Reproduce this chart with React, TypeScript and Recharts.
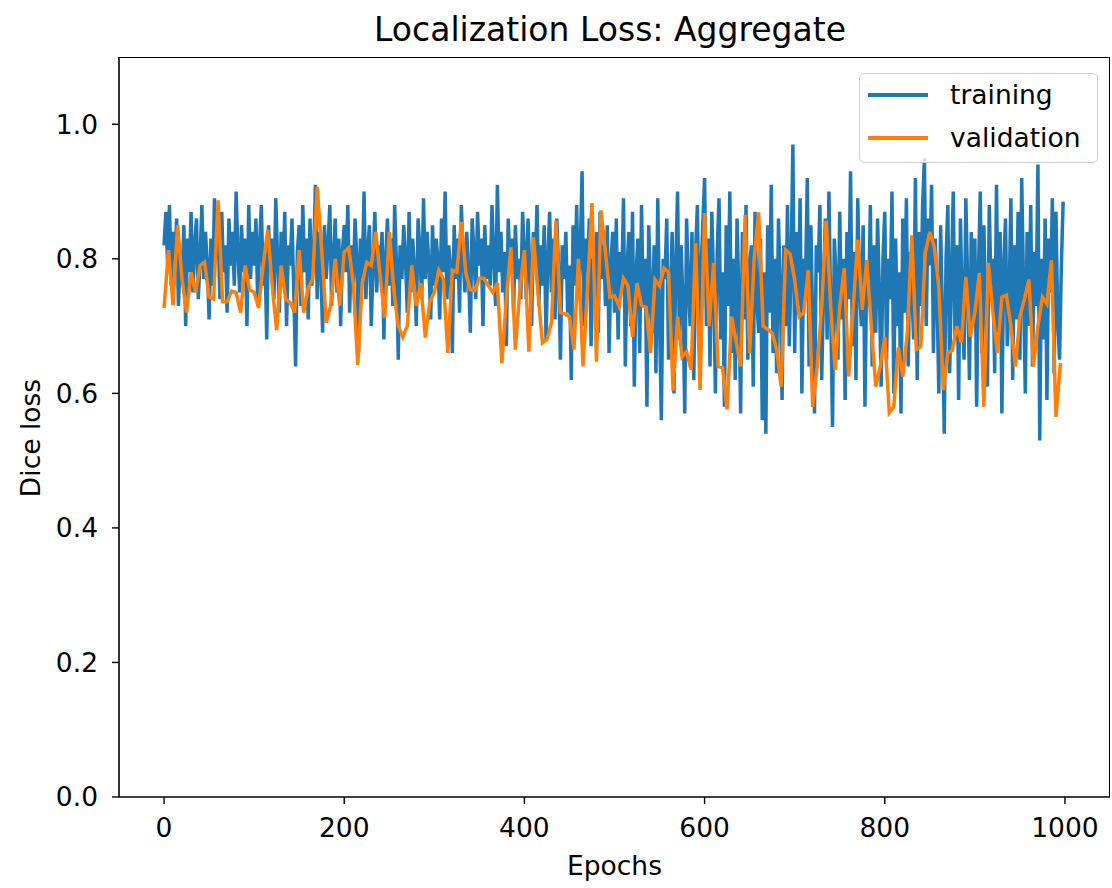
import React from "react";
import { LineChart, Line, XAxis, YAxis } from "recharts";

// training loss, one reading every 2 epochs (0..998)
const trainingLoss = [
  0.82, 0.87, 0.79, 0.88, 0.76, 0.84, 0.80, 0.86, 0.73, 0.81, 0.77, 0.85, 0.70, 0.83, 0.78, 0.87, 0.75, 0.82, 0.86, 0.74, 0.80, 0.88, 0.77, 0.84, 0.79,
  0.71, 0.83, 0.76, 0.89, 0.80, 0.85, 0.74, 0.87, 0.78, 0.82, 0.72, 0.86, 0.79, 0.84, 0.76, 0.90, 0.81, 0.75, 0.85, 0.78, 0.83, 0.70, 0.88, 0.77, 0.84,
  0.79, 0.86, 0.73, 0.82, 0.88, 0.76, 0.81, 0.68, 0.85, 0.78, 0.83, 0.74, 0.89, 0.80, 0.72, 0.84, 0.77, 0.87, 0.70, 0.82, 0.79, 0.86, 0.75, 0.64, 0.81,
  0.85, 0.73, 0.88, 0.78, 0.83, 0.71, 0.86, 0.76, 0.80, 0.91, 0.74, 0.84, 0.79, 0.69, 0.85, 0.77, 0.82, 0.88, 0.73, 0.80, 0.86, 0.75, 0.83, 0.70, 0.81,
  0.85, 0.78, 0.88, 0.72, 0.82, 0.76, 0.86, 0.80, 0.66, 0.83, 0.77, 0.90, 0.74, 0.81, 0.85, 0.70, 0.79, 0.87, 0.75, 0.82, 0.78, 0.84, 0.68, 0.80, 0.86,
  0.76, 0.83, 0.73, 0.88, 0.79, 0.65, 0.82, 0.77, 0.85, 0.80, 0.72, 0.87, 0.75, 0.83, 0.78, 0.70, 0.86, 0.81, 0.74, 0.89, 0.77, 0.84, 0.79, 0.71, 0.85,
  0.76, 0.83, 0.80, 0.71, 0.86, 0.78, 0.90, 0.74, 0.82, 0.79, 0.66, 0.85, 0.77, 0.83, 0.72, 0.88, 0.80, 0.75, 0.84, 0.78, 0.69, 0.86, 0.81, 0.74, 0.87,
  0.79, 0.83, 0.70, 0.85, 0.77, 0.82, 0.76, 0.88, 0.80, 0.73, 0.91, 0.78, 0.84, 0.75, 0.81, 0.67, 0.86, 0.79, 0.83, 0.72, 0.85, 0.77, 0.80, 0.74, 0.87,
  0.81, 0.74, 0.86, 0.78, 0.70, 0.84, 0.79, 0.88, 0.73, 0.82, 0.76, 0.85, 0.68, 0.80, 0.87, 0.75, 0.83, 0.71, 0.86, 0.78, 0.65, 0.82, 0.77, 0.84, 0.72,
  0.79, 0.62, 0.85, 0.76, 0.88, 0.74, 0.81, 0.93, 0.70, 0.83, 0.78, 0.86, 0.67, 0.80, 0.75, 0.84, 0.69, 0.87, 0.77, 0.82, 0.73, 0.85, 0.66, 0.79, 0.84,
  0.72, 0.86, 0.68, 0.81, 0.76, 0.89, 0.64, 0.79, 0.84, 0.70, 0.87, 0.61, 0.78, 0.83, 0.66, 0.88, 0.73, 0.80, 0.58, 0.85, 0.75, 0.69, 0.82, 0.63, 0.89,
  0.71, 0.56, 0.80, 0.77, 0.86, 0.65, 0.74, 0.84, 0.60, 0.79, 0.90, 0.68, 0.82, 0.73, 0.57, 0.86, 0.76, 0.70, 0.84, 0.62, 0.81, 0.88, 0.67, 0.78, 0.85,
  0.92, 0.70, 0.83, 0.64, 0.87, 0.76, 0.60, 0.81, 0.89, 0.68, 0.78, 0.58, 0.85, 0.73, 0.90, 0.66, 0.80, 0.62, 0.86, 0.75, 0.57, 0.84, 0.71, 0.88, 0.65,
  0.79, 0.82, 0.61, 0.87, 0.74, 0.69, 0.83, 0.56, 0.78, 0.54, 0.85, 0.72, 0.91, 0.66, 0.80, 0.63, 0.86, 0.76, 0.59, 0.82, 0.70, 0.88, 0.67, 0.79, 0.97,
  0.66, 0.84, 0.73, 0.89, 0.60, 0.80, 0.76, 0.92, 0.64, 0.85, 0.70, 0.57, 0.82, 0.78, 0.88, 0.62, 0.75, 0.86, 0.68, 0.90, 0.72, 0.55, 0.83, 0.77, 0.65,
  0.87, 0.71, 0.80, 0.59, 0.84, 0.74, 0.93, 0.67, 0.81, 0.62, 0.89, 0.76, 0.70, 0.85, 0.58, 0.79, 0.73, 0.88, 0.64, 0.82, 0.69, 0.86, 0.75, 0.61, 0.80,
  0.87, 0.65, 0.80, 0.74, 0.90, 0.60, 0.83, 0.70, 0.78, 0.57, 0.86, 0.72, 0.89, 0.64, 0.81, 0.76, 0.68, 0.92, 0.62, 0.84, 0.73, 0.88, 0.95, 0.70, 0.86,
  0.79, 0.91, 0.66, 0.83, 0.75, 0.60, 0.85, 0.71, 0.54, 0.80, 0.88, 0.63, 0.77, 0.90, 0.68, 0.82, 0.59, 0.86, 0.73, 0.65, 0.89, 0.76, 0.62, 0.84, 0.70,
  0.83, 0.58, 0.78, 0.90, 0.66, 0.85, 0.72, 0.61, 0.88, 0.75, 0.80, 0.63, 0.91, 0.69, 0.84, 0.57, 0.79, 0.86, 0.67, 0.74, 0.89, 0.62, 0.82, 0.71, 0.87,
  0.65, 0.92, 0.76, 0.60, 0.84, 0.70, 0.88, 0.64, 0.81, 0.73, 0.94, 0.53, 0.80, 0.68, 0.86, 0.59, 0.83, 0.75, 0.89, 0.63, 0.87, 0.71, 0.65, 0.79, 0.885,
];

// validation loss, one reading every 5 epochs (0..995)
const validationLoss = [
  0.727, 0.813, 0.731, 0.85, 0.77, 0.72, 0.78, 0.75, 0.79, 0.795, 0.743, 0.74, 0.887, 0.736, 0.736, 0.752, 0.75, 0.72, 0.79, 0.754,
  0.75, 0.727, 0.79, 0.843, 0.76, 0.694, 0.79, 0.74, 0.735, 0.72, 0.813, 0.72, 0.757, 0.77, 0.907, 0.813, 0.705, 0.73, 0.8, 0.73,
  0.81, 0.816, 0.764, 0.642, 0.764, 0.795, 0.79, 0.84, 0.773, 0.712, 0.84, 0.754, 0.7, 0.684, 0.7, 0.79, 0.73, 0.764, 0.683, 0.736,
  0.75, 0.783, 0.77, 0.66, 0.783, 0.78, 0.855, 0.779, 0.754, 0.753, 0.771, 0.771, 0.76, 0.75, 0.764, 0.645, 0.742, 0.817, 0.665, 0.754,
  0.813, 0.662, 0.832, 0.75, 0.675, 0.68, 0.705, 0.857, 0.72, 0.718, 0.714, 0.665, 0.8, 0.64, 0.754, 0.883, 0.647, 0.872, 0.809, 0.743,
  0.745, 0.73, 0.771, 0.76, 0.684, 0.764, 0.731, 0.728, 0.66, 0.769, 0.76, 0.786, 0.78, 0.604, 0.714, 0.654, 0.662, 0.635, 0.823, 0.605,
  0.868, 0.7, 0.794, 0.64, 0.638, 0.576, 0.714, 0.677, 0.64, 0.865, 0.66, 0.8, 0.869, 0.7, 0.695, 0.69, 0.665, 0.61, 0.813, 0.807,
  0.769, 0.714, 0.72, 0.783, 0.58, 0.64, 0.729, 0.857, 0.729, 0.635, 0.729, 0.786, 0.625, 0.729, 0.828, 0.724, 0.798, 0.7, 0.61, 0.64,
  0.684, 0.571, 0.58, 0.668, 0.625, 0.69, 0.835, 0.665, 0.67, 0.809, 0.84, 0.817, 0.758, 0.605, 0.66, 0.664, 0.7, 0.675, 0.773, 0.684,
  0.72, 0.779, 0.58, 0.794, 0.72, 0.66, 0.743, 0.746, 0.7, 0.64, 0.714, 0.74, 0.769, 0.64, 0.7, 0.743, 0.733, 0.798, 0.565, 0.645,
];

const xTicks = [0, 200, 400, 600, 800, 1000];
const yTicks = [0.0, 0.2, 0.4, 0.6, 0.8, 1.0];

const trainingData = trainingLoss.map((loss, i) => ({ epoch: i * 2, loss }));
const validationData = validationLoss.map((loss, i) => ({ epoch: i * 5, loss }));

const FONT = "'DejaVu Sans', sans-serif";
const BLUE = "#1f77b4";
const ORANGE = "#ff7f0e";
const LABEL_SIZE = 26.5;

const tickStyle = { fontSize: LABEL_SIZE, fill: "#000", fontFamily: FONT };

const legendItems = [
  { name: "training", color: BLUE },
  { name: "validation", color: ORANGE },
];

const LegendBox = () => (
  <div
    style={{
      position: "absolute",
      left: 859,
      top: 73,
      width: 239,
      height: 90,
      boxSizing: "border-box",
      border: "1.5px solid #cccccc",
      borderRadius: 5,
      background: "rgba(255,255,255,0.8)",
      fontFamily: FONT,
      fontSize: LABEL_SIZE,
      color: "#000",
    }}
  >
    {legendItems.map((item, i) => (
      <div
        key={item.name}
        style={{ position: "absolute", left: 8, top: 6 + i * 43, height: 30, display: "flex", alignItems: "center" }}
      >
        <span style={{ display: "inline-block", width: 60, height: 3.5, background: item.color }} />
        <span style={{ marginLeft: 22, lineHeight: "30px" }}>{item.name}</span>
      </div>
    ))}
  </div>
);

export default function App() {
  return (
    <div style={{ position: "absolute", left: 0, top: 0, width: 1112, height: 888, background: "#fff" }}>
      <div
        style={{
          position: "absolute",
          top: 8,
          left: 0,
          width: 1220,
          textAlign: "center",
          fontFamily: FONT,
          fontSize: 33,
          lineHeight: "44px",
        }}
      >
        Localization Loss: Aggregate
      </div>
      <div
        style={{
          position: "absolute",
          top: 847,
          left: 0,
          width: 1229,
          textAlign: "center",
          fontFamily: FONT,
          fontSize: LABEL_SIZE,
          lineHeight: "38px",
        }}
      >
        Epochs
      </div>
      <div
        style={{
          position: "absolute",
          left: 30,
          top: 438,
          transform: "translate(-50%, -50%) rotate(-90deg)",
          fontFamily: FONT,
          fontSize: LABEL_SIZE,
          whiteSpace: "nowrap",
        }}
      >
        Dice loss
      </div>
      <LineChart
        width={1112}
        height={888}
        margin={{ top: 57, right: 2, bottom: 51, left: 69 }}
        style={{ position: "absolute", left: 0, top: 0 }}
      >
        <XAxis
          type="number"
          dataKey="epoch"
          domain={[-50, 1050]}
          ticks={xTicks}
          allowDataOverflow
          height={40}
          tick={tickStyle}
          tickSize={7}
          tickMargin={14}
          axisLine={{ stroke: "#000", strokeWidth: 1.6 }}
          tickLine={{ stroke: "#000", strokeWidth: 1.4 }}
        />
        <YAxis
          type="number"
          domain={[0, 1.1]}
          ticks={yTicks}
          allowDataOverflow
          width={50}
          tick={tickStyle}
          tickSize={7}
          tickMargin={14}
          tickFormatter={(v: number) => v.toFixed(1)}
          axisLine={{ stroke: "#000", strokeWidth: 1.6 }}
          tickLine={{ stroke: "#000", strokeWidth: 1.4 }}
        />
        <Line
          data={trainingData}
          dataKey="loss"
          name="training"
          type="linear"
          stroke={BLUE}
          strokeWidth={3.5}
          dot={false}
          isAnimationActive={false}
        />
        <Line
          data={validationData}
          dataKey="loss"
          name="validation"
          type="linear"
          stroke={ORANGE}
          strokeWidth={3.5}
          dot={false}
          isAnimationActive={false}
        />
      </LineChart>
      {/* top and right spines of the axes box */}
      <div
        style={{
          position: "absolute",
          left: 118,
          top: 57,
          width: 992,
          height: 740,
          boxSizing: "border-box",
          borderTop: "1.6px solid #000",
          borderRight: "1.6px solid #000",
          pointerEvents: "none",
        }}
      />
      <LegendBox />
    </div>
  );
}
